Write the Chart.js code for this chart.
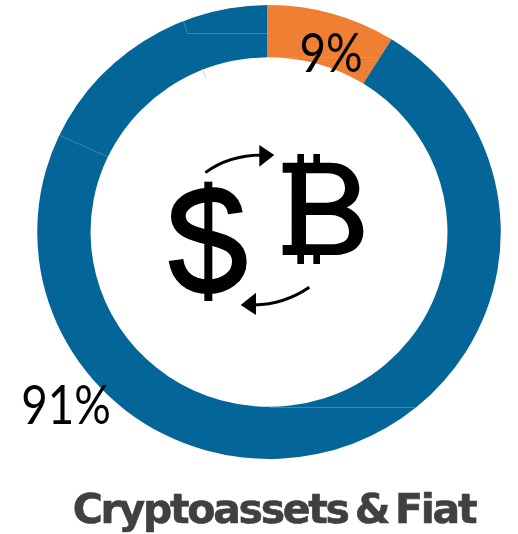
<!DOCTYPE html>
<html lang="en">
<head>
    <meta charset="UTF-8">
    <title>Cryptoassets & Fiat</title>
    <script src="https://cdn.jsdelivr.net/npm/chart.js"></script>
    <style>
        html, body { margin: 0; padding: 0; background: #fff; }
        canvas { display: block; }
    </style>
</head>
<body>
    <canvas id="myChart" width="518" height="534"></canvas>
    <script>
        const categories = ['Cryptoassets', 'Fiat'];
        const shares = [9, 91];
        const sliceColors = ['#ee7f33', '#046698'];
        const sliceLabels = ['9%', '91%'];
        const chartTitle = 'Cryptoassets & Fiat';

        // Squeezed digits, the reference font is narrower than anything installed
        function drawPercent(ctx, text, x, y) {
            ctx.save();
            ctx.translate(x, y);
            ctx.scale(0.83, 1);
            ctx.font = '55px Lato, "Open Sans", sans-serif';
            ctx.fillStyle = '#000';
            ctx.textAlign = 'center';
            ctx.textBaseline = 'alphabetic';
            ctx.fillText(text, 0, 0);
            ctx.restore();
        }

        // Dollar, bitcoin and the two arrows, traced on a 3x grid
        function drawIcon(ctx) {
            ctx.save();
            ctx.translate(150, 130);
            ctx.scale(1 / 3, 1 / 3);
            ctx.fillStyle = '#000';
            ctx.strokeStyle = '#000';

            ctx.fillRect(163, 155, 24, 358);
            ctx.lineWidth = 44;
            ctx.stroke(new Path2D('M256 250C250 205 215 190 175 195C120 198 85 225 85 258C85 300 130 312 175 322C230 335 268 350 268 395C268 440 225 470 175 470C120 470 85 440 78 390'));

            const bitcoin = new Path2D('M398 98L540 98C600 98 628 140 628 175C628 205 610 225 590 232C620 245 640 270 640 305C640 345 610 375 550 375L398 375L398 345L425 345L425 128L398 128Z' +
                'M468 130L530 130C570 130 585 150 585 175C585 200 565 218 530 218L468 218Z' +
                'M468 255L540 255C580 255 597 280 597 305C597 330 580 343 540 343L468 343Z');
            ctx.fill(bitcoin, 'evenodd');
            ctx.fillRect(442, 72, 20, 28);
            ctx.fillRect(490, 72, 20, 28);
            ctx.fillRect(442, 373, 20, 29);
            ctx.fillRect(490, 373, 20, 29);

            ctx.lineWidth = 9;
            ctx.stroke(new Path2D('M166 128C210 95 265 76 335 75'));
            ctx.fill(new Path2D('M328 45L373 75L328 110Z'));
            ctx.stroke(new Path2D('M478 472C430 505 375 524 312 525'));
            ctx.fill(new Path2D('M318 488L272 525L318 555Z'));
            ctx.restore();
        }

        // Faint seams left in the ring of the reference
        function drawSeams(ctx) {
            ctx.save();
            ctx.lineWidth = 1;
            ctx.strokeStyle = 'rgba(255, 255, 255, 0.22)';
            ctx.stroke(new Path2D('M183.5 21L187.5 33.5L267 33.5M59 135L108 157M270 407.5L415 407.5'));
            ctx.strokeStyle = 'rgba(255, 255, 255, 0.1)';
            ctx.stroke(new Path2D('M267 57.5L378 57.5'));
            ctx.strokeStyle = '#c4d9e8';
            ctx.stroke(new Path2D('M202.5 69L206 79'));
            ctx.restore();
        }

        // The ring in the reference is slightly wider than tall
        const widenRing = {
            id: 'widenRing',
            beforeDatasetsDraw(chart) {
                const arc = chart.getDatasetMeta(0).data[0];
                const ctx = chart.ctx;
                ctx.save();
                ctx.translate(arc.x, arc.y);
                ctx.scale(1.021, 1);
                ctx.translate(-arc.x, -arc.y);
            },
            afterDatasetsDraw(chart) {
                chart.ctx.restore();
            }
        };

        const overlay = {
            id: 'overlay',
            afterDraw(chart) {
                const ctx = chart.ctx;
                drawSeams(ctx);
                drawIcon(ctx);

                drawPercent(ctx, sliceLabels[0], 331, 72);
                drawPercent(ctx, sliceLabels[1], 66, 424);

                ctx.save();
                ctx.font = 'bold 41px "DejaVu Sans", sans-serif';
                ctx.letterSpacing = '-2.3px';
                ctx.wordSpacing = '-5px';
                ctx.fillStyle = '#404040';
                ctx.strokeStyle = '#404040';
                ctx.lineWidth = 0.6;
                ctx.textAlign = 'center';
                ctx.textBaseline = 'alphabetic';
                ctx.fillText(chartTitle, 274, 523);
                ctx.strokeText(chartTitle, 274, 523);
                ctx.restore();
            }
        };

        new Chart(document.getElementById('myChart').getContext('2d'), {
            type: 'doughnut',
            data: {
                labels: categories,
                datasets: [{
                    data: shares,
                    backgroundColor: sliceColors,
                    borderWidth: 0
                }]
            },
            options: {
                responsive: false,
                animation: false,
                cutout: '77%',
                rotation: -0.5,
                layout: { padding: { top: 5, bottom: 75, left: 42, right: 22 } },
                plugins: {
                    legend: { display: false },
                    tooltip: { enabled: false },
                    title: { display: false }
                }
            },
            plugins: [widenRing, overlay]
        });
    </script>
</body>
</html>
